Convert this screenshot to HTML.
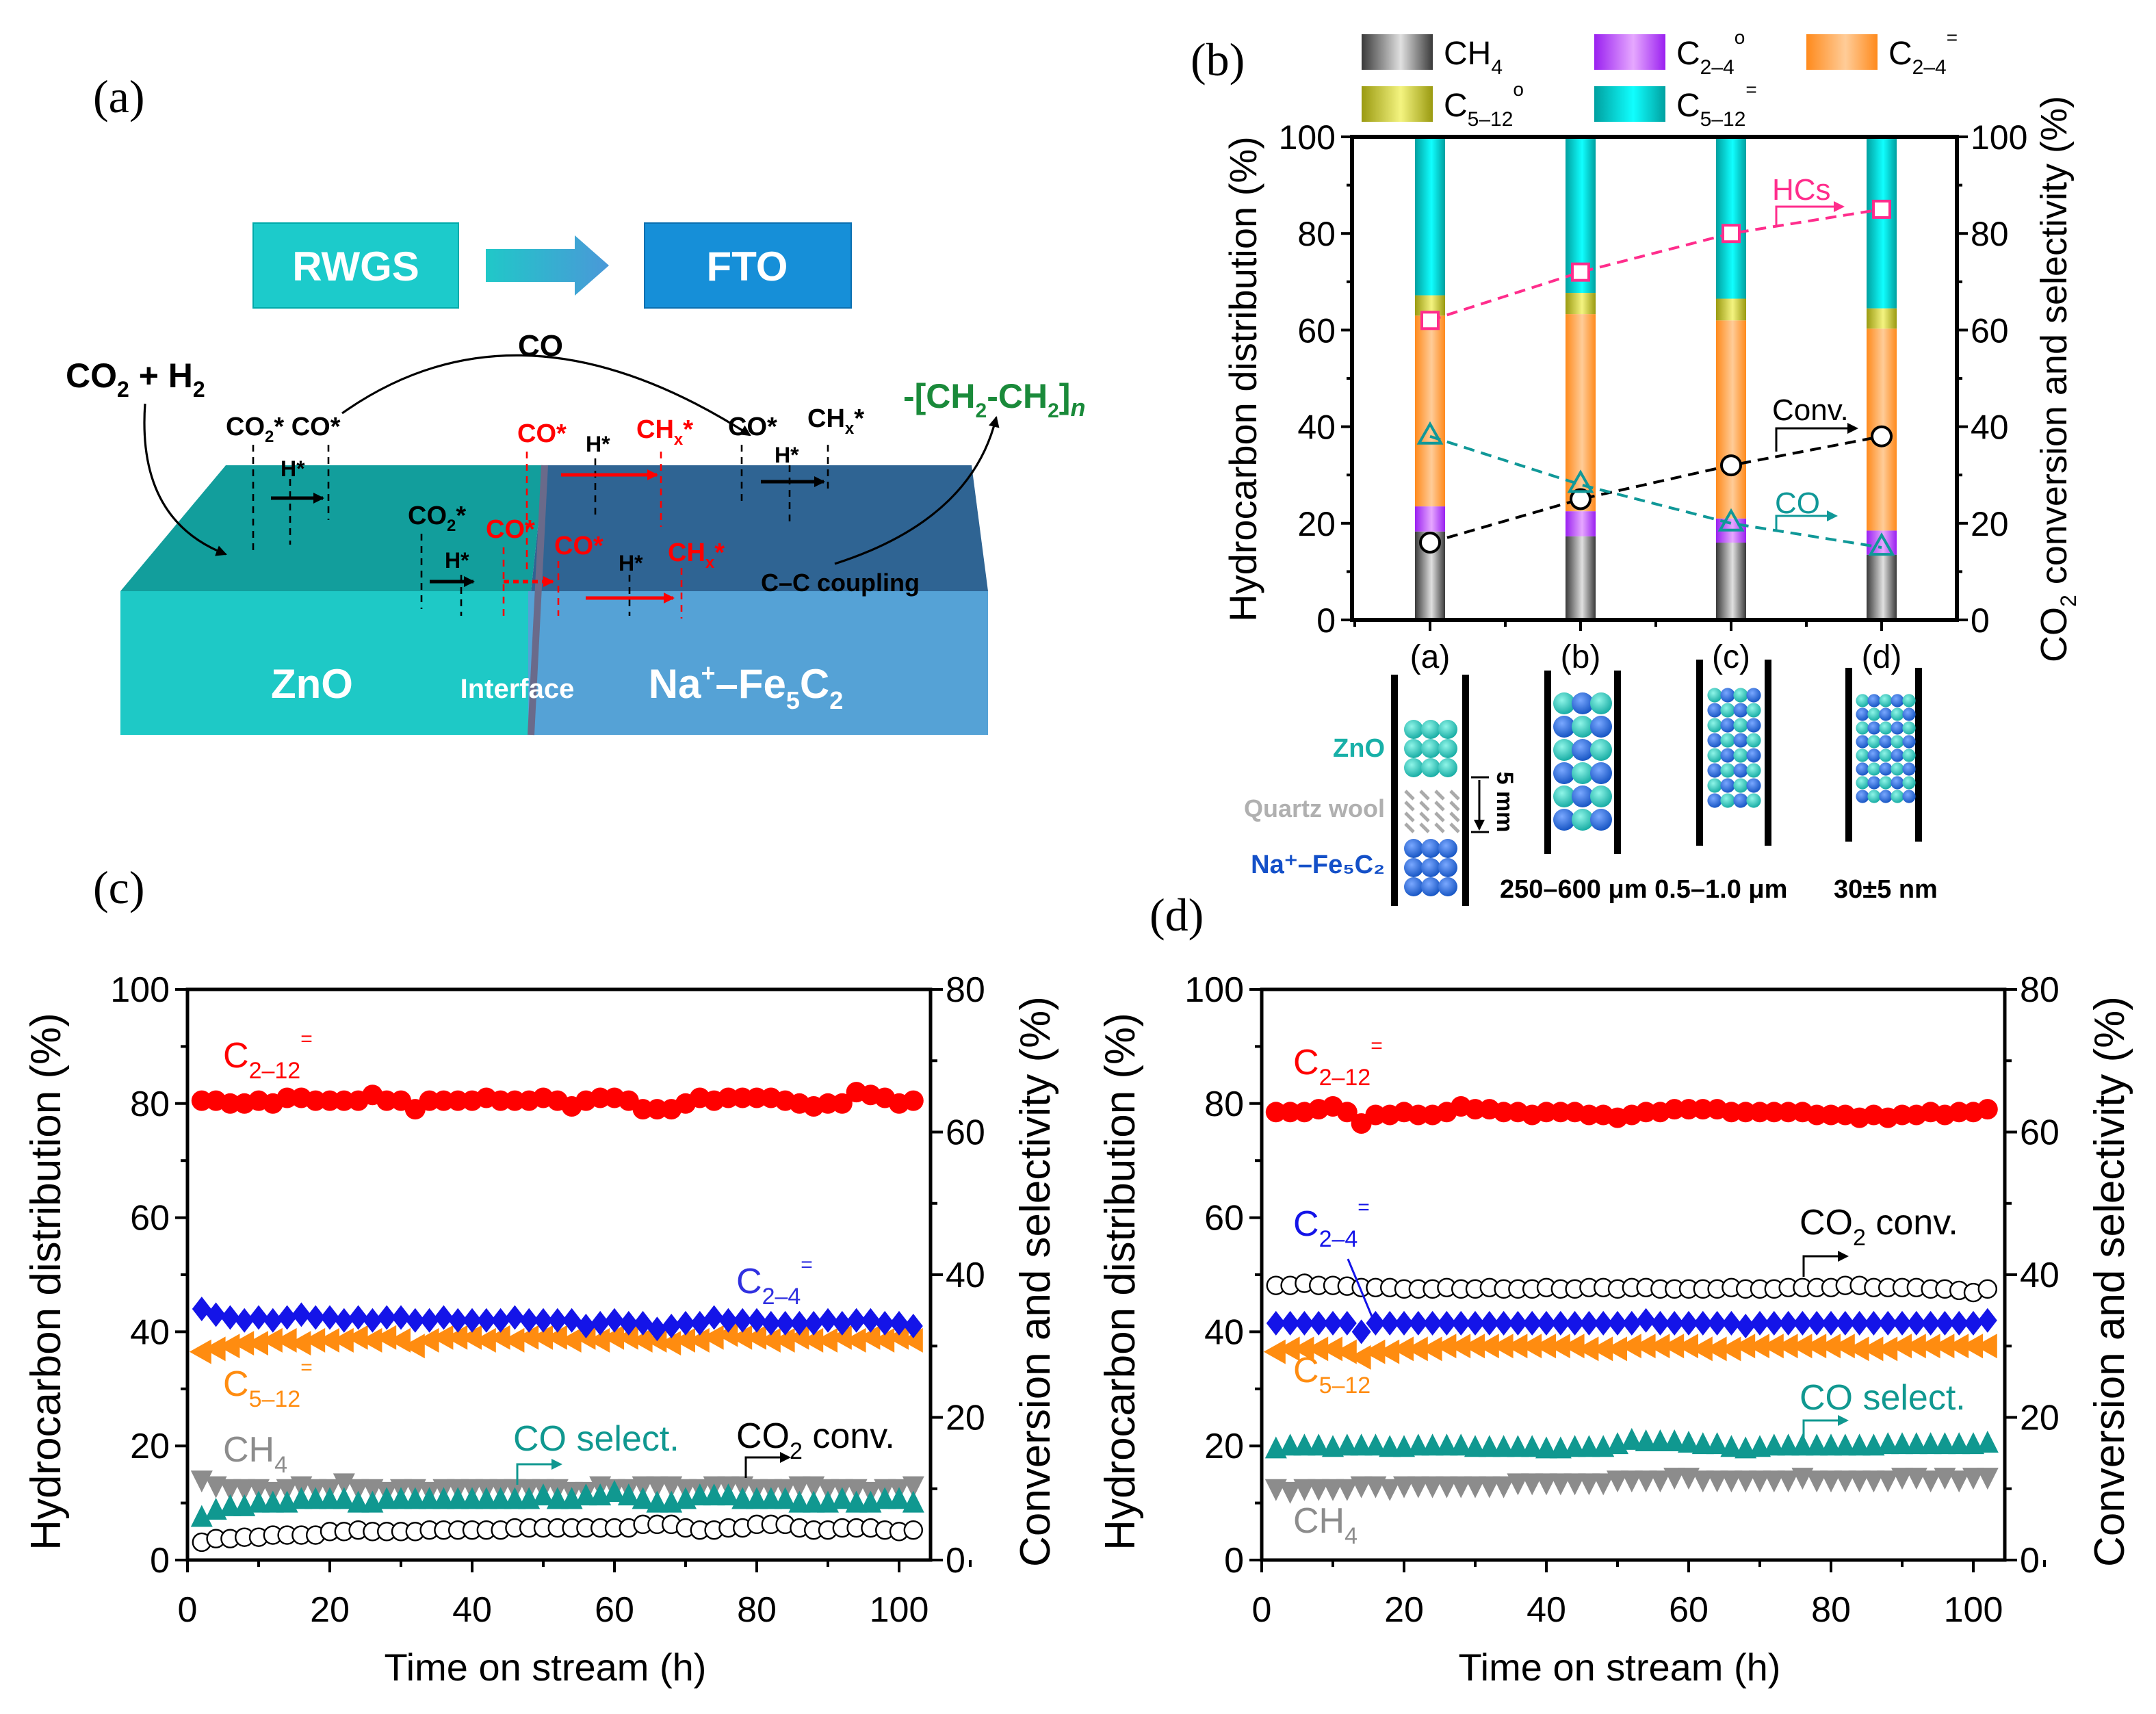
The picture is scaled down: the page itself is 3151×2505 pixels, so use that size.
<!DOCTYPE html>
<html><head><meta charset="utf-8"><style>
html,body{margin:0;padding:0;background:#fff;}
svg{display:block;font-family:"Liberation Sans",sans-serif;}
</style></head><body>
<svg id="fig" xmlns="http://www.w3.org/2000/svg" width="3151" height="2505" viewBox="0 0 1575.5 1252.5">
<defs>
<linearGradient id="gCH4" x1="0" x2="1"><stop offset="0" stop-color="#3a3a3a"/><stop offset="0.55" stop-color="#e0e0e0"/><stop offset="1" stop-color="#3a3a3a"/></linearGradient>
<linearGradient id="gP" x1="0" x2="1"><stop offset="0" stop-color="#9a20f0"/><stop offset="0.55" stop-color="#e6a8ff"/><stop offset="1" stop-color="#9a20f0"/></linearGradient>
<linearGradient id="gO" x1="0" x2="1"><stop offset="0" stop-color="#ff8a1c"/><stop offset="0.55" stop-color="#ffcc98"/><stop offset="1" stop-color="#ff8a1c"/></linearGradient>
<linearGradient id="gY" x1="0" x2="1"><stop offset="0" stop-color="#9a9a10"/><stop offset="0.55" stop-color="#f4f480"/><stop offset="1" stop-color="#9a9a10"/></linearGradient>
<linearGradient id="gT" x1="0" x2="1"><stop offset="0" stop-color="#00a0a0"/><stop offset="0.55" stop-color="#10ffff"/><stop offset="1" stop-color="#00a0a0"/></linearGradient>
<linearGradient id="gArrow" x1="0" x2="1"><stop offset="0" stop-color="#20c8c8"/><stop offset="1" stop-color="#4a98d8"/></linearGradient>
<radialGradient id="gBallT" cx="0.4" cy="0.35" r="0.7"><stop offset="0" stop-color="#8ff5e8"/><stop offset="1" stop-color="#10a8a0"/></radialGradient>
<radialGradient id="gBallB" cx="0.4" cy="0.35" r="0.7"><stop offset="0" stop-color="#7aa8ff"/><stop offset="1" stop-color="#1050c0"/></radialGradient>
<marker id="ahK" markerWidth="8" markerHeight="8" refX="7" refY="4" orient="auto" markerUnits="userSpaceOnUse"><path d="M0,0 L8,4 L0,8 z" fill="#000"/></marker>
<marker id="ahR" markerWidth="8" markerHeight="8" refX="7" refY="4" orient="auto" markerUnits="userSpaceOnUse"><path d="M0,0 L8,4 L0,8 z" fill="#f00"/></marker>
</defs>

<!-- Panel (a) -->
<g>
<text x="68" y="82" font-family="Liberation Serif,serif" font-size="34">(a)</text>
<rect x="185" y="163" width="150" height="62" fill="#1ccbcb" stroke="#0aa" stroke-width="1"/>
<text x="260" y="205" font-size="30" font-weight="bold" fill="#fff" text-anchor="middle">RWGS</text>
<path d="M355,182 L420,182 L420,172 L445,194 L420,216 L420,206 L355,206 z" fill="url(#gArrow)"/>
<rect x="471" y="163" width="151" height="62" fill="#168fd8" stroke="#0b6fb0" stroke-width="1"/>
<text x="546" y="205" font-size="30" font-weight="bold" fill="#fff" text-anchor="middle">FTO</text>
<polygon points="165,340 398,340 388,432 88,432" fill="#129e9c"/>
<polygon points="398,340 710,340 722,432 388,432" fill="#2f6493"/>
<rect x="88" y="432" width="298" height="105" fill="#1ec9c6"/>
<rect x="386" y="432" width="336" height="105" fill="#55a2d6"/>
<line x1="398" y1="340" x2="388" y2="537" stroke="#6a6a8a" stroke-width="5"/>
<text x="228" y="510" font-size="30" font-weight="bold" fill="#fff" text-anchor="middle">ZnO</text>
<text x="378" y="510" font-size="20" font-weight="bold" fill="#fff" text-anchor="middle">Interface</text>
<text x="545" y="510" font-size="30" font-weight="bold" fill="#fff" text-anchor="middle">Na<tspan font-size="18" dy="-12">+</tspan><tspan dy="12">–Fe</tspan><tspan font-size="18" dy="8">5</tspan><tspan dy="-8">C</tspan><tspan font-size="18" dy="8">2</tspan></text>
<text x="48" y="283" font-size="25" font-weight="bold">CO<tspan font-size="16" dy="7">2</tspan><tspan dy="-7"> + H</tspan><tspan font-size="16" dy="7">2</tspan></text>
<text x="395" y="260" font-size="22" font-weight="bold" text-anchor="middle">CO</text>
<path d="M250,302 Q380,210 548,318" fill="none" stroke="#000" stroke-width="1.6" marker-end="url(#ahK)"/>
<path d="M106,295 Q100,380 165,405" fill="none" stroke="#000" stroke-width="1.6" marker-end="url(#ahK)"/>
<path d="M610,412 Q710,380 728,305" fill="none" stroke="#000" stroke-width="1.6" marker-end="url(#ahK)"/>
<text x="660" y="298" font-size="25" font-weight="bold" fill="#1a8a3a">-[CH<tspan font-size="15" dy="7">2</tspan><tspan dy="-7">-CH</tspan><tspan font-size="15" dy="7">2</tspan><tspan dy="-7">]</tspan><tspan font-style="italic" font-size="18" dy="6">n</tspan></text>
<g font-size="19" font-weight="bold">
<text x="165" y="318">CO<tspan font-size="12" dy="5">2</tspan><tspan dy="-5">*</tspan> CO*</text>
<text x="205" y="348" font-size="16">H*</text>
<text x="298" y="383">CO<tspan font-size="12" dy="5">2</tspan><tspan dy="-5">*</tspan></text>
<text x="355" y="393" fill="#f00">CO*</text>
<text x="325" y="415" font-size="16">H*</text>
<text x="405" y="405" fill="#f00">CO*</text>
<text x="452" y="417" font-size="16">H*</text>
<text x="488" y="410" fill="#f00">CH<tspan font-size="12" dy="5">x</tspan><tspan dy="-5">*</tspan></text>
<text x="378" y="323" fill="#f00">CO*</text>
<text x="428" y="330" font-size="16">H*</text>
<text x="465" y="320" fill="#f00">CH<tspan font-size="12" dy="5">x</tspan><tspan dy="-5">*</tspan></text>
<text x="532" y="318">CO*</text>
<text x="590" y="312">CH<tspan font-size="12" dy="5">x</tspan><tspan dy="-5">*</tspan></text>
<text x="566" y="338" font-size="16">H*</text>
<text x="556" y="432" font-size="18">C–C coupling</text>
</g>
<g stroke="#000" stroke-width="1.3" stroke-dasharray="5,4" fill="none">
<line x1="185" y1="325" x2="185" y2="405"/><line x1="212" y1="350" x2="212" y2="398"/><line x1="240" y1="325" x2="240" y2="380"/>
<line x1="308" y1="390" x2="308" y2="445"/><line x1="337" y1="420" x2="337" y2="450"/>
<line x1="435" y1="335" x2="435" y2="380"/><line x1="542" y1="325" x2="542" y2="370"/><line x1="577" y1="340" x2="577" y2="385"/><line x1="605" y1="325" x2="605" y2="360"/>
<line x1="460" y1="420" x2="460" y2="450"/>
</g>
<g stroke="#f00" stroke-width="1.3" stroke-dasharray="5,4" fill="none">
<line x1="368" y1="400" x2="368" y2="450"/><line x1="408" y1="410" x2="408" y2="450"/><line x1="498" y1="415" x2="498" y2="452"/>
<line x1="385" y1="330" x2="385" y2="420"/><line x1="483" y1="330" x2="483" y2="385"/>
</g>
<g stroke-width="2.5" fill="none">
<line x1="198" y1="364" x2="236" y2="364" stroke="#000" marker-end="url(#ahK)"/>
<line x1="314" y1="425" x2="346" y2="425" stroke="#000" marker-end="url(#ahK)"/>
<line x1="368" y1="425" x2="404" y2="425" stroke="#f00" stroke-dasharray="4,3" marker-end="url(#ahR)"/>
<line x1="428" y1="437" x2="492" y2="437" stroke="#f00" marker-end="url(#ahR)"/>
<line x1="410" y1="347" x2="480" y2="347" stroke="#f00" marker-end="url(#ahR)"/>
<line x1="556" y1="352" x2="602" y2="352" stroke="#000" marker-end="url(#ahK)"/>
</g>
</g>

<g id="pb"></g>
<g id="pr"></g>
<g id="pc"></g>
<g id="pd"></g>
</svg>
<script>
const NS='http://www.w3.org/2000/svg';
function mk(parent,tag,attrs,txt){const e=document.createElementNS(NS,tag);for(const k in attrs)e.setAttribute(k,attrs[k]);if(txt!==undefined)e.textContent=txt;parent.appendChild(e);return e;}

/* ---------- Panel b data ---------- */
const bCategories=['(a)','(b)','(c)','(d)'];
const bCH4=[18.3,17.3,16,13.5];
const bC24o=[5.2,5.2,5,5];
const bC24e=[39.5,40.8,41,41.8];
const bC512o=[4.2,4.4,4.5,4.2];
const bC512e=[32.8,32.3,33.5,35.5];
const bHCs=[62,72,80,85];
const bConv=[16,25,32,38];
const bCO=[38,28,20,15];
const bTicks=[0,20,40,60,80,100];

/* ---------- Panel c data ---------- */
const times=[2,4,6,8,10,12,14,16,18,20,22,24,26,28,30,32,34,36,38,40,42,44,46,48,50,52,54,56,58,60,62,64,66,68,70,72,74,76,78,80,82,84,86,88,90,92,94,96,98,100,102];
const cC212=[80.5,80.5,80,80,80.5,80,81,81,80.5,80.5,80.5,80.5,81.5,80.5,80.5,79,80.5,80.5,80.5,80.5,81,80.5,80.5,80.5,81,80.5,79.5,80.5,81,81,80.5,79,79,79,80,81,80.5,81,81,81,81,80.5,80,79.5,80,80,82,81.5,81,80,80.5];
const cC24=[44,43,42.5,42,42.5,42,42.5,43,42.5,42.5,42,42.5,42,42.5,42.5,42,42,42.5,42,42,42,42,42.5,42,42,42,42,41,41.5,42,41.5,41.5,40.5,41,41.5,41.5,42.5,42,42,42,41.5,41.5,41.5,41.5,42,41.5,42,42,41.5,41.5,41];
const cC512=[36.5,37,37.5,38,38,38.5,38.5,38,38.5,38.5,38.5,39,38.5,39,38.5,37.5,38.5,39,39,39,38.5,39,38.5,39,39,39,38.5,39,38.5,39,39,38.5,38.5,38,38.5,38.5,39,39.5,39,39,38.5,38.5,39,38.5,38.5,39,38.5,39,38.5,39,38.5];
const cCH4=[14,13,12.5,12.5,12.5,12,12.5,13,12.5,12.5,13.5,12.5,12.5,12,12.5,12.5,12,12.5,12.5,12.5,12.5,12.5,12.5,12.5,12.5,12.5,12,12,13,12.5,12.5,13,13,13,12.5,12.5,13,13,13,12.5,12.5,12.5,13,13,12.5,12.5,12.5,12,12.5,12.5,13];
const cCOsel=[6,7,7.5,7.5,8,8,8,8.5,8.5,8.5,8.5,8,8,8.5,8.5,8.5,8.5,8.5,8.5,8.5,8.5,8.5,8.5,8.5,9,8.5,8.5,9,9,9.5,9,8.5,8,8,8.5,9,9,9,8.5,8.5,8.5,8.5,8,8,8,8.5,8,8,8.5,8.5,8];
const cConv=[2.5,3,3,3.2,3.2,3.5,3.5,3.5,3.5,4,4,4.2,4,4,4,4,4.2,4.2,4.2,4.2,4.2,4.2,4.5,4.5,4.5,4.5,4.5,4.5,4.5,4.5,4.5,5,5,5,4.5,4.2,4.2,4.5,4.5,5,5,5,4.5,4.2,4.2,4.5,4.5,4.5,4.2,4,4.2];

/* ---------- Panel d data ---------- */
const dC212=[78.5,78.5,78.5,79,79.5,78.5,76.5,78,78,78.5,78,78,78.5,79.5,79,79,78.5,78.5,78,78.5,78.5,78.5,78,78,77.5,78,78.5,78.5,79,79,79,79,78.5,78.5,78.5,78.5,78.5,78.5,78,78,78,77.5,78,77.5,78,78,78.5,78,78.5,78.5,79];
const dConv=[38.5,38.5,38.8,38.5,38.5,38.4,38.2,38.2,38.2,38,38,38,38.2,38,38,38.2,38,38,38,38.2,38,38,38.2,38.2,38,38.2,38.2,38,38,38,38,38,38.2,38,38,38,38.2,38.2,38.2,38.2,38.5,38.5,38.2,38.2,38.2,38.2,38,38,37.8,37.5,38];
const dC24=[41.5,41.5,41.5,41.5,41.5,41.5,40,41.5,41.5,41.5,41.5,41.5,41.5,41.5,41.5,41.5,41.5,41.5,41.5,41.5,41.5,41.5,41.5,41.5,41.5,41.5,42,41.5,41.5,41.5,41.5,41.5,41.5,41,41.5,41.5,41.5,41.5,41.5,41.5,41.5,41.5,41.5,41.5,41.5,41.5,41.5,41.5,41.5,41.5,42];
const dC512=[36.5,37,37,37,37,36.5,35.5,36.5,36.5,37,37,37,37.5,37.5,37.5,37.5,37.5,37.5,37.5,37.5,37.5,37.5,37,37,37,37.5,37.5,37.5,37.5,37.5,37,37,37,37.5,37.5,37.5,37.5,37.5,37.5,37.5,37.5,37,37,37,37.5,37.5,37.5,37.5,37.5,37.5,37.5];
const dCOsel=[15.6,16,16,16,15.8,16,16,16,15.8,15.8,16,16,16,16,15.8,15.8,15.8,15.8,15.8,15.6,15.6,15.8,15.8,15.8,16.2,16.8,16.6,16.6,16.6,16.4,16.2,16.2,15.8,15.6,15.8,16,16,16,16,16,16,16,16,16.2,16.2,16.2,16.2,16.2,16.2,16.2,16.4];
const dCH4=[12.5,12,12.5,12.5,12.5,12.5,13,13,12.5,13,13,13,13,13,13,13,13,13.5,13.5,13.5,13.5,13.5,13.5,13.5,14,14,14,14,14.5,14.5,14,14,14,14,14,14,14,14.5,14,14,14,14,14,14,14.5,14.5,14,14.5,14,14.5,14.5];

const xTicks=[0,20,40,60,80,100];
const yLeftTicks=[0,20,40,60,80,100];
const yRightTicks=[0,20,40,60,80];

/* ---------- Panel b drawing ---------- */
(function(){
  const g=document.getElementById('pb');
  const X0=988,X1=1430,Y0=453,Y1=100;
  const y=v=>Y0-(v/100)*(Y0-Y1);
  const xc=i=>1045+i*110;
  const lbl=mk(g,'text',{x:870,y:55,'font-family':'Liberation Serif,serif','font-size':34},'(b)');
  
  
  const leg=[['gCH4',995,25,'CH','4',''],['gP',1165,25,'C','2–4','o'],['gO',1320,25,'C','2–4','='],['gY',995,63,'C','5–12','o'],['gT',1165,63,'C','5–12','=']];
  leg.forEach(l=>{
    const r=mk(g,'rect',{x:l[1],y:l[2],width:52,height:26,fill:'url(#'+l[0]+')'});
    
    
    const t=mk(g,'text',{x:l[1]+60,y:l[2]+22,'font-size':24});
    
    
    t.innerHTML=l[3]+'<tspan font-size="15" dy="7">'+l[4]+'</tspan><tspan font-size="14" dy="-22">'+l[5]+'</tspan>';
  });
  const stacks=[[bCH4,'gCH4'],[bC24o,'gP'],[bC24e,'gO'],[bC512o,'gY'],[bC512e,'gT']];
  bCategories.forEach((c,i)=>{
    let acc=0;
    stacks.forEach(s=>{
      const v=s[0][i];
      const r=mk(g,'rect',{x:xc(i)-11,y:y(acc+v),width:22,height:y(acc)-y(acc+v),fill:'url(#'+s[1]+')'});
      
      
      acc+=v;
    });
    const t=mk(g,'text',{x:xc(i),y:Y0+35,'font-size':24,'text-anchor':'middle'},c);
    
    
  });
  const ax=mk(g,'path',{d:`M${X0},${Y1} L${X0},${Y0} L${X1},${Y0} L${X1},${Y1} Z`,fill:'none',stroke:'#000','stroke-width':3});
  
  
  bTicks.forEach(v=>{
    mk(g,'line',{x1:X0-8,x2:X0,y1:y(v),y2:y(v),stroke:'#000','stroke-width':2});
    mk(g,'line',{x1:X1,x2:X1+8,y1:y(v),y2:y(v),stroke:'#000','stroke-width':2});
    if(v<100){mk(g,'line',{x1:X0-4,x2:X0,y1:y(v+10),y2:y(v+10),stroke:'#000','stroke-width':2});mk(g,'line',{x1:X1,x2:X1+4,y1:y(v+10),y2:y(v+10),stroke:'#000','stroke-width':2});}
    const t=mk(g,'text',{x:X0-12,y:y(v)+9,'font-size':25,'text-anchor':'end'},String(v));
    
    
    const t2=mk(g,'text',{x:X1+10,y:y(v)+9,'font-size':25},String(v));
    
    
  });
  [0,1,2,3].forEach(i=>{mk(g,'line',{x1:xc(i),x2:xc(i),y1:Y0,y2:Y0+8,stroke:'#000','stroke-width':2});mk(g,'line',{x1:xc(i)-55,x2:xc(i)-55,y1:Y0,y2:Y0+5,stroke:'#000','stroke-width':2});});
  const yt=mk(g,'text',{transform:`translate(918,277) rotate(-90)`,'font-size':28,'text-anchor':'middle'},'Hydrocarbon distribution (%)');
  
  
  const yt2=mk(g,'text',{transform:`translate(1510,277) rotate(-90)`,'font-size':27,'text-anchor':'middle'});
  yt2.innerHTML='CO<tspan font-size="16" dy="7">2</tspan><tspan dy="-7"> conversion and selectivity (%)</tspan>';
  
  
  const series=[[bHCs,'#ff2d8c','sq'],[bConv,'#000','ci'],[bCO,'#109898','tr']];
  series.forEach(s=>{
    const pts=s[0].map((v,i)=>xc(i)+','+y(v)).join(' ');
    const l=mk(g,'polyline',{points:pts,fill:'none',stroke:s[1],'stroke-width':2,'stroke-dasharray':'8,5'});
    
    
    s[0].forEach((v,i)=>{
      let m;
      if(s[2]==='sq')m=mk(g,'rect',{x:xc(i)-6,y:y(v)-6,width:12,height:12,fill:'#fff',stroke:s[1],'stroke-width':2});
      else if(s[2]==='ci')m=mk(g,'circle',{cx:xc(i),cy:y(v),r:7,fill:'#fff',stroke:s[1],'stroke-width':2});
      else m=mk(g,'polygon',{points:`${xc(i)},${y(v)-9} ${xc(i)+8},${y(v)+5} ${xc(i)-8},${y(v)+5}`,fill:'none',stroke:s[1],'stroke-width':2});
      
      
    });
  });
  const ann=[['HCs',1295,146,'#ff2d8c',1298,166,1340,151],['Conv.',1295,307,'#000',1298,330,1350,313],['CO',1297,375,'#109898',1298,388,1335,377]];
  ann.forEach(a=>{
    const t=mk(g,'text',{x:a[1],y:a[2],'font-size':22,fill:a[3]},a[0]);
    
    
    mk(g,'path',{d:`M${a[4]},${a[5]} L${a[4]},${a[7]} L${a[6]},${a[7]}`,fill:'none',stroke:a[3],'stroke-width':1.5});
    mk(g,'path',{d:`M${a[6]},${a[7]-4} L${a[6]+8},${a[7]} L${a[6]},${a[7]+4}z`,fill:a[3]});
  });
})();

/* ---------- Reactor schematic ---------- */
(function(){
  const g=document.getElementById('pr');
  function wall(x,y1,y2){const l=mk(g,'line',{x1:x,x2:x,y1:y1,y2:y2,stroke:'#000','stroke-width':5});}
  function ball(x,y,r,t){const c=mk(g,'circle',{cx:x,cy:y,r:r,fill:t?'url(#gBallT)':'url(#gBallB)'});}
  wall(1019,493,662);wall(1071,493,662);
  for(let r=0;r<3;r++)for(let c=0;c<3;c++)ball(1033+c*12.5,533+r*14,7,true);
  for(let r=0;r<3;r++)for(let c=0;c<3;c++)ball(1033+c*12.5,620+r*14,7,false);
  for(let r=0;r<4;r++)for(let c=0;c<4;c++)mk(g,'line',{x1:1027+c*11,y1:578+r*8,x2:1033+c*11,y2:584+r*8,stroke:'#aaa','stroke-width':2.5});
  mk(g,'line',{x1:1075,x2:1088,y1:568,y2:568,stroke:'#000','stroke-width':1.5});
  mk(g,'line',{x1:1075,x2:1088,y1:608,y2:608,stroke:'#000','stroke-width':1.5});
  mk(g,'line',{x1:1081,x2:1081,y1:570,y2:606,stroke:'#000','stroke-width':1.5,'marker-end':'url(#ahK)'});
  const mm=mk(g,'text',{transform:'translate(1094,586) rotate(90)','font-size':17,'font-weight':'bold','text-anchor':'middle'},'5 mm');
  
  wall(1131,490,624);wall(1182,490,624);
  for(let r=0;r<6;r++)for(let c=0;c<3;c++)ball(1143+c*13.5,514+r*17,8,(r+c)%2===0);
  wall(1242,482,618);wall(1292,482,618);
  for(let r=0;r<8;r++)for(let c=0;c<4;c++)ball(1253+c*9.5,508+r*11,5.3,(r+c)%2===0);
  wall(1351,488,615);wall(1402,488,615);
  for(let r=0;r<8;r++)for(let c=0;c<5;c++)ball(1361+c*8.5,512+r*10,4.8,(r+c)%2===0);
  const labs=[['ZnO',1012,553,'#18b0a8',19],['Quartz wool',1012,597,'#b0b0b0',18],['Na⁺–Fe₅C₂',1012,638,'#1450c8',19]];
  labs.forEach(l=>{const t=mk(g,'text',{x:l[1],y:l[2],'font-size':l[4],'font-weight':'bold',fill:l[3],'text-anchor':'end'},l[0]);});
  const s1=mk(g,'text',{x:1096,y:656,'font-size':19,'font-weight':'bold'},'250–600 μm 0.5–1.0 μm');
  
  const s2=mk(g,'text',{x:1340,y:656,'font-size':19,'font-weight':'bold'},'30±5 nm');
  
})();

/* ---------- Time-on-stream panels ---------- */
function drawTime(id,X0,label,lx,ly,series,annots){
  const g=document.getElementById(id);
  const X1=X0+543,Y0=1140,Y1=723;
  const x=t=>X0+t*5.2;
  const yl=v=>Y0-v/100*(Y0-Y1);
  const yr=v=>Y0-v/80*(Y0-Y1);
  const pl=mk(g,'text',{x:lx,y:ly,'font-family':'Liberation Serif,serif','font-size':34},label);
  
  
  const fr=mk(g,'path',{d:`M${X0},${Y1} L${X0},${Y0} L${X1},${Y0} L${X1},${Y1} Z`,fill:'none',stroke:'#000','stroke-width':2.5});
  
  
  yLeftTicks.forEach(v=>{
    mk(g,'line',{x1:X0-9,x2:X0,y1:yl(v),y2:yl(v),stroke:'#000','stroke-width':2});
    if(v<100)mk(g,'line',{x1:X0-5,x2:X0,y1:yl(v+10),y2:yl(v+10),stroke:'#000','stroke-width':2});
    const t=mk(g,'text',{x:X0-13,y:yl(v)+9,'font-size':26,'text-anchor':'end'},String(v));
    
    
  });
  yRightTicks.forEach(v=>{
    mk(g,'line',{x1:X1,x2:X1+9,y1:yr(v),y2:yr(v),stroke:'#000','stroke-width':2});
    if(v<80)mk(g,'line',{x1:X1,x2:X1+5,y1:yr(v+10),y2:yr(v+10),stroke:'#000','stroke-width':2});
    const t=mk(g,'text',{x:X1+11,y:yr(v)+9,'font-size':26},String(v));
    
    
  });
  xTicks.forEach(v=>{
    mk(g,'line',{x1:x(v),x2:x(v),y1:Y0,y2:Y0+9,stroke:'#000','stroke-width':2});
    mk(g,'line',{x1:x(v+10),x2:x(v+10),y1:Y0,y2:Y0+5,stroke:'#000','stroke-width':2});
    const t=mk(g,'text',{x:x(v),y:Y0+45,'font-size':26,'text-anchor':'middle'},String(v));
    
    
  });
  const xt=mk(g,'text',{x:(X0+X1)/2-10,y:1228,'font-size':28,'text-anchor':'middle'},'Time on stream (h)');
  
  
  const yt=mk(g,'text',{transform:`translate(${X0-93},${(Y0+Y1)/2+5}) rotate(-90)`,'font-size':31,'text-anchor':'middle'},'Hydrocarbon distribution (%)');
  
  
  const yt2=mk(g,'text',{transform:`translate(${X1+87},${(Y0+Y1)/2+5}) rotate(-90)`,'font-size':31,'text-anchor':'middle'},'Conversion and selectivity (%)');
  
  
  series.forEach(s=>{
    const vals=s.vals,sc=s.right?yr:yl;
    vals.forEach((v,i)=>{
      const cx=x(times[i]),cy=sc(v);let m;
      if(s.shape==='circle')m=mk(g,'circle',{cx:cx,cy:cy,r:s.stroke?6.5:7.5,fill:s.fill,stroke:s.stroke||'none','stroke-width':1.2});
      else if(s.shape==='diamond')m=mk(g,'polygon',{points:`${cx},${cy-9} ${cx+7},${cy} ${cx},${cy+9} ${cx-7},${cy}`,fill:s.fill});
      else if(s.shape==='left')m=mk(g,'polygon',{points:`${cx-9},${cy} ${cx+7},${cy-9} ${cx+7},${cy+9}`,fill:s.fill});
      else if(s.shape==='down')m=mk(g,'polygon',{points:`${cx-8},${cy-7} ${cx+8},${cy-7} ${cx},${cy+9}`,fill:s.fill});
      else m=mk(g,'polygon',{points:`${cx-8},${cy+7} ${cx+8},${cy+7} ${cx},${cy-9}`,fill:s.fill});
      
      
    });
  });
  annots.forEach(a=>{
    const t=mk(g,'text',{x:a.x,y:a.y,'font-size':26,fill:a.c});
    t.innerHTML=a.h;
    
    
    if(a.ax){mk(g,'path',{d:`M${a.ax},${a.ay} L${a.ax},${a.ay-15} L${a.ax+25},${a.ay-15}`,fill:'none',stroke:a.c,'stroke-width':1.5});
      mk(g,'path',{d:`M${a.ax+25},${a.ay-19} L${a.ax+33},${a.ay-15} L${a.ax+25},${a.ay-11}z`,fill:a.c});}
  });
  return {x,yl};
}
drawTime('pc',137,'(c)',68,660,[
 {vals:cCH4,shape:'down',fill:'#8c8c8c',name:'ch4'},
 {vals:cCOsel,right:true,shape:'up',fill:'#109890',name:'co-select'},
 {vals:cConv,right:true,shape:'circle',fill:'#fff',stroke:'#000',name:'co2-conv'},
 {vals:cC512,shape:'left',fill:'#ff8c10',name:'c5-12'},
 {vals:cC24,shape:'diamond',fill:'#1414e8',name:'c2-4'},
 {vals:cC212,shape:'circle',fill:'#f00',name:'c2-12'}
],[
 {x:163,y:780,c:'#f00',h:'C<tspan font-size="17" dy="8">2–12</tspan><tspan font-size="15" dy="-24">=</tspan>'},
 {x:538,y:945,c:'#3030e0',h:'C<tspan font-size="17" dy="8">2–4</tspan><tspan font-size="15" dy="-24">=</tspan>'},
 {x:163,y:1020,c:'#ff8c10',h:'C<tspan font-size="17" dy="8">5–12</tspan><tspan font-size="15" dy="-24">=</tspan>'},
 {x:163,y:1068,c:'#8c8c8c',h:'CH<tspan font-size="17" dy="8">4</tspan>'},
 {x:375,y:1060,c:'#109890',h:'CO select.',ax:378,ay:1085},
 {x:538,y:1058,c:'#000',h:'CO<tspan font-size="17" dy="8">2</tspan><tspan dy="-8"> conv.</tspan>',ax:545,ay:1080}
]);
drawTime('pd',922,'(d)',840,680,[
 {vals:dCH4,shape:'down',fill:'#8c8c8c',name:'ch4'},
 {vals:dCOsel,right:true,shape:'up',fill:'#109890',name:'co-select'},
 {vals:dC512,shape:'left',fill:'#ff8c10',name:'c5-12'},
 {vals:dC24,shape:'diamond',fill:'#1414e8',name:'c2-4'},
 {vals:dConv,right:true,shape:'circle',fill:'#fff',stroke:'#000',name:'co2-conv'},
 {vals:dC212,shape:'circle',fill:'#f00',name:'c2-12'}
],[
 {x:945,y:785,c:'#f00',h:'C<tspan font-size="17" dy="8">2–12</tspan><tspan font-size="15" dy="-24">=</tspan>'},
 {x:945,y:903,c:'#1414e8',h:'C<tspan font-size="17" dy="8">2–4</tspan><tspan font-size="15" dy="-24">=</tspan>'},
 {x:945,y:1010,c:'#ff8c10',h:'C<tspan font-size="17" dy="8">5–12</tspan><tspan font-size="15" dy="-24">=</tspan>'},
 {x:945,y:1120,c:'#8c8c8c',h:'CH<tspan font-size="17" dy="8">4</tspan>'},
 {x:1315,y:1030,c:'#109890',h:'CO select.',ax:1318,ay:1053},
 {x:1315,y:902,c:'#000',h:'CO<tspan font-size="17" dy="8">2</tspan><tspan dy="-8"> conv.</tspan>',ax:1318,ay:933}
]);
const pdg=document.getElementById('pd');
const ptr=mk(pdg,'line',{x1:1005,y1:968,x2:985,y2:920,stroke:'#1414e8','stroke-width':1.5});


</script>
</body></html>
